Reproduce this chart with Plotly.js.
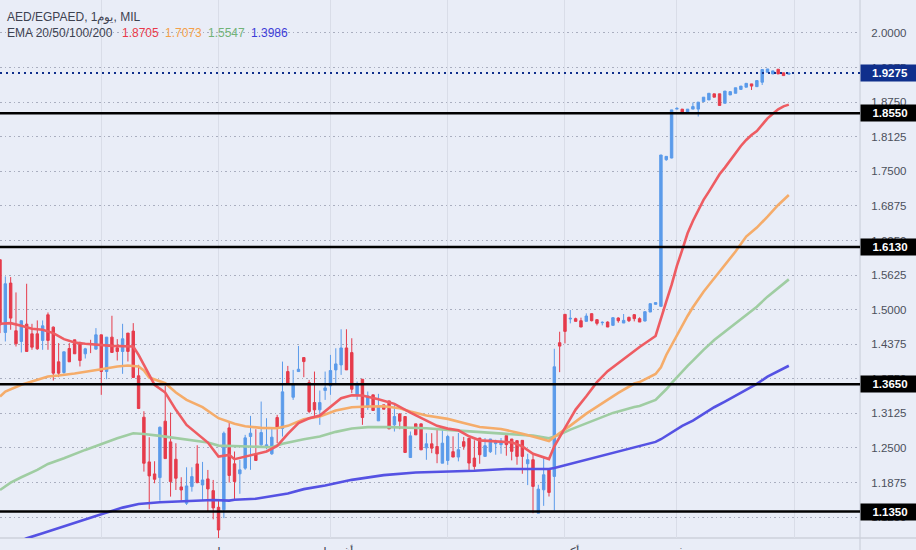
<!DOCTYPE html>
<html><head><meta charset="utf-8">
<script src="https://cdn.plot.ly/plotly-3.0.1.min.js"></script>
<style>html,body{margin:0;padding:0;background:#E9EDF7;overflow:hidden}#c{width:916px;height:550px}</style>
</head><body><div id="c"></div><script>
const open=[1.5902,1.4588,1.5480,1.4618,1.4425,1.4738,1.4563,1.4563,1.4443,1.4907,
1.4684,1.4057,1.3864,1.4298,1.4455,1.4407,1.4202,1.4377,1.4286,1.4545,
1.3882,1.4503,1.4310,1.4244,1.4576,1.4612,1.3804,1.3056,1.2248,1.2031,
1.1965,1.2984,1.2610,1.2296,1.1796,1.1500,1.1802,1.2212,1.1832,1.1941,
1.1729,1.1428,1.1383,1.2863,1.2213,1.2033,1.2135,1.2707,1.2376,1.2557,
1.2526,1.2394,1.3050,1.2851,1.3881,1.3417,1.3881,1.4134,1.3682,1.3321,
1.3189,1.3538,1.3622,1.3911,1.4001,1.4308,1.4224,1.3460,1.3742,1.3237,
1.3460,1.2990,1.3279,1.3351,1.2918,1.3116,1.3068,1.2328,1.2936,1.2936,
1.2502,1.2575,1.2526,1.2225,1.2274,1.2433,1.2336,1.2614,1.2674,1.2318,
1.2680,1.2348,1.2433,1.2578,1.2560,1.2723,1.2662,1.2632,1.2638,1.2215,
1.2288,1.1321,1.1744,1.2119,1.1986,1.4402,1.4915,1.4831,1.4837,1.4800,
1.4788,1.4927,1.4819,1.4764,1.4776,1.4716,1.4849,1.4758,1.4861,1.4909,
1.4837,1.4794,1.4957,1.5096,1.5060,1.7710,1.7740,1.8624,1.8624,1.8564,
1.8624,1.8624,1.8760,1.8790,1.8900,1.8900,1.8730,1.8880,1.8910,1.8980,
1.9020,1.9080,1.9030,1.9110,1.9290,1.9260,1.9345,1.9280,1.9255];
const high=[1.5902,1.5601,1.5589,1.5311,1.4805,1.5468,1.4744,1.4805,1.4805,1.4949,
1.4696,1.4395,1.4238,1.4395,1.4455,1.4419,1.4310,1.4455,1.4666,1.4545,
1.4503,1.4889,1.4467,1.4744,1.4576,1.4756,1.4003,1.3164,1.2694,1.2260,
1.2887,1.3623,1.3140,1.2586,1.1971,1.2151,1.2151,1.2549,1.2248,1.2103,
1.1922,1.1573,1.2797,1.2978,1.2436,1.2286,1.2737,1.3080,1.2839,1.3339,
1.3038,1.2857,1.3098,1.4061,1.3983,1.3911,1.4344,1.4134,1.3730,1.3881,
1.3538,1.3881,1.4182,1.4302,1.4645,1.4645,1.4483,1.3700,1.3742,1.3520,
1.3460,1.3478,1.3279,1.3351,1.3279,1.3128,1.3068,1.2797,1.2936,1.2936,
1.2767,1.2767,1.2827,1.2857,1.2737,1.2711,1.2771,1.2699,1.2680,1.2638,
1.2680,1.2680,1.2662,1.2650,1.2680,1.2723,1.2662,1.2638,1.2638,1.2396,
1.2378,1.1835,1.2318,1.2119,1.4293,1.4601,1.4915,1.4994,1.4855,1.4855,
1.4933,1.4933,1.4825,1.4788,1.4788,1.4861,1.4861,1.4921,1.4873,1.4921,
1.4861,1.4969,1.5115,1.5127,1.7795,1.7770,1.8610,1.8660,1.8624,1.8624,
1.8744,1.8750,1.8840,1.8910,1.8900,1.8900,1.8950,1.8940,1.9010,1.9040,
1.9090,1.9080,1.9140,1.9340,1.9350,1.9315,1.9345,1.9280,1.9273];
const low=[1.4576,1.4425,1.4636,1.4334,1.4226,1.4244,1.4274,1.4274,1.4274,1.4274,
1.3719,1.3780,1.3840,1.4057,1.4202,1.3973,1.4117,1.4214,1.4286,1.3460,
1.3743,1.4226,1.4081,1.3840,1.4063,1.3773,1.3213,1.2073,1.1392,1.1862,
1.1548,1.2308,1.1621,1.1741,1.1548,1.1470,1.1711,1.1862,1.1548,1.1349,
1.1211,1.0873,1.1232,1.1876,1.1563,1.1672,1.2105,1.2105,1.2274,1.2538,
1.2478,1.2376,1.2587,1.2707,1.3640,1.3369,1.3881,1.3779,1.3128,1.3080,
1.2918,1.3369,1.3460,1.3670,1.3821,1.3911,1.3490,1.3369,1.2918,1.3189,
1.3177,1.2990,1.3201,1.2845,1.2797,1.2839,1.2418,1.2328,1.2737,1.2466,
1.2286,1.2406,1.2225,1.2225,1.2195,1.2336,1.2258,1.2469,1.2094,1.2107,
1.2215,1.2348,1.2409,1.2378,1.2396,1.2360,1.2276,1.2197,1.2034,1.1829,
1.1321,1.1321,1.1454,1.1623,1.1370,1.3870,1.4390,1.4752,1.4788,1.4686,
1.4788,1.4788,1.4716,1.4716,1.4686,1.4716,1.4764,1.4758,1.4776,1.4788,
1.4776,1.4788,1.4957,1.5090,1.5054,1.7690,1.7735,1.8624,1.8564,1.8564,
1.8624,1.8490,1.8760,1.8790,1.8840,1.8690,1.8730,1.8880,1.8910,1.8980,
1.9020,1.8970,1.9030,1.9060,1.9290,1.9260,1.9260,1.9230,1.9255];
const close=[1.4726,1.5468,1.4847,1.4383,1.4799,1.4244,1.4322,1.4292,1.4708,1.4443,
1.3852,1.3852,1.4238,1.4057,1.4202,1.4081,1.4292,1.4371,1.4545,1.3882,
1.4503,1.4226,1.4244,1.4473,1.4244,1.3773,1.3213,1.2224,1.1995,1.1934,
1.2875,1.2308,1.1892,1.1953,1.1741,1.1814,1.1983,1.1874,1.1922,1.1760,
1.1416,1.1018,1.2767,1.2003,1.1894,1.2105,1.2683,1.2767,1.2274,1.2779,
1.2557,1.2695,1.2857,1.3514,1.3658,1.3658,1.3923,1.4061,1.3159,1.3189,
1.3321,1.3586,1.3899,1.4019,1.4308,1.3911,1.3562,1.3640,1.3050,1.3441,
1.3177,1.3237,1.3201,1.2845,1.3068,1.2984,1.2418,1.2719,1.2737,1.2466,
1.2575,1.2496,1.2394,1.2587,1.2707,1.2336,1.2469,1.2529,1.2227,1.2167,
1.2378,1.2541,1.2662,1.2602,1.2626,1.2560,1.2439,1.2348,1.2348,1.2288,
1.1805,1.1756,1.2016,1.1696,1.3967,1.4341,1.4607,1.4843,1.4788,1.4686,
1.4885,1.4800,1.4752,1.4770,1.4686,1.4855,1.4800,1.4806,1.4800,1.4837,
1.4776,1.4963,1.5108,1.5127,1.7795,1.7770,1.8610,1.8636,1.8564,1.8624,
1.8670,1.8750,1.8840,1.8910,1.8840,1.8690,1.8950,1.8940,1.9010,1.9040,
1.9090,1.9040,1.9140,1.9340,1.9350,1.9315,1.9260,1.9230,1.9275];
const barIndex=open.map((_,i)=>i);

const ema20x=[0,2,4,6,8,10,12,14,16,19,21,25,26,27,29,31,33,35,37,39,41,43,44,46,48,50,52,54,56,58,60,62,64,66,68,71,74,77,80,82,84,86,88,90,93,96,98,100,103,104,106,108,110,112,114,116,118,120,123,124,125,126,127,128,129,130,131,132,133,134,135,136,137,138,139,140,141,142,143,144,145,146,147,148];
const ema20=[1.4744,1.4756,1.4708,1.4654,1.4636,1.4576,1.4467,1.4407,1.4383,1.4358,1.4346,1.4334,1.4184,1.4003,1.3641,1.3502,1.3189,1.2917,1.2754,1.2598,1.2345,1.2375,1.2298,1.2346,1.2382,1.2436,1.2538,1.2755,1.2948,1.3038,1.3086,1.3249,1.3399,1.3453,1.3447,1.3381,1.3297,1.3140,1.2990,1.2900,1.2850,1.2819,1.2711,1.2638,1.2620,1.2602,1.2529,1.2396,1.2300,1.2529,1.2862,1.3194,1.3435,1.3689,1.3888,1.4039,1.4190,1.4325,1.4524,1.4813,1.5144,1.5446,1.5790,1.6080,1.6381,1.6603,1.6802,1.6983,1.7133,1.7302,1.7446,1.7567,1.7705,1.7838,1.7958,1.8066,1.8157,1.8229,1.8349,1.8458,1.8542,1.8620,1.8674,1.8705];
const ema50x=[0,1,4,6,9,11,14,19,22,24,26,27,28,31,33,35,38,41,43,44,46,49,52,54,57,60,63,66,69,72,75,77,80,84,87,90,94,98,101,103,105,107,110,113,116,119,120,123,124,125,126,127,128,129,130,131,132,133,134,135,136,138,140,142,144,146,148];
const ema50=[1.3430,1.3520,1.3641,1.3701,1.3792,1.3810,1.3846,1.3924,1.3973,1.3991,1.3973,1.3900,1.3773,1.3671,1.3502,1.3370,1.3237,1.3038,1.2978,1.2936,1.2894,1.2863,1.2857,1.2900,1.3020,1.3068,1.3177,1.3237,1.3249,1.3255,1.3219,1.3158,1.3086,1.3026,1.2952,1.2880,1.2843,1.2759,1.2680,1.2626,1.2771,1.2904,1.3121,1.3315,1.3496,1.3665,1.3690,1.3838,1.3959,1.4181,1.4362,1.4543,1.4723,1.4886,1.5042,1.5187,1.5325,1.5446,1.5566,1.5686,1.5795,1.6050,1.6321,1.6483,1.6682,1.6892,1.7073];
const ema100x=[0,2,4,7,9,12,16,19,22,25,27,30,33,36,39,41,43,46,51,53,57,60,63,66,69,73,77,80,84,87,91,96,100,103,105,107,111,115,119,120,123,124,125,126,127,128,129,130,131,132,134,136,138,140,142,144,146,148];
const ema100=[1.1741,1.1874,1.1971,1.2103,1.2212,1.2314,1.2465,1.2574,1.2676,1.2767,1.2754,1.2718,1.2676,1.2634,1.2598,1.2543,1.2537,1.2526,1.2514,1.2575,1.2659,1.2707,1.2791,1.2851,1.2876,1.2876,1.2870,1.2857,1.2827,1.2807,1.2777,1.2753,1.2723,1.2674,1.2741,1.2831,1.2982,1.3134,1.3240,1.3260,1.3369,1.3459,1.3561,1.3670,1.3778,1.3880,1.3983,1.4079,1.4181,1.4272,1.4452,1.4603,1.4753,1.4904,1.5054,1.5235,1.5385,1.5547];
const ema200x=[2,5,8,14,19,23,26,30,35,40,43,44,48,51,54,57,61,66,72,78,84,85,89,95,103,104,110,116,120,123,124,126,128,130,132,134,136,138,140,142,144,146,148];
const ema200=[1.0746,1.0867,1.0957,1.1150,1.1301,1.1422,1.1488,1.1518,1.1542,1.1561,1.1548,1.1563,1.1581,1.1623,1.1678,1.1756,1.1822,1.1924,1.2009,1.2057,1.2075,1.2070,1.2088,1.2119,1.2119,1.2137,1.2288,1.2433,1.2526,1.2610,1.2658,1.2779,1.2899,1.2995,1.3116,1.3236,1.3339,1.3441,1.3549,1.3658,1.3790,1.3892,1.3986];

const levels=[1.8550,1.6130,1.3650,1.1350];
const levelLabels=["1.8550","1.6130","1.3650","1.1350"];
const lastPrice=1.9275;
const yTicks=[2.0,1.9375,1.875,1.8125,1.75,1.6875,1.625,1.5625,1.5,1.4375,1.375,1.3125,1.25,1.1875,1.125];
const xTicks=[19,41,62,84,106,127,149];
const xLabels=["يونيو","يوليو","أغسطس","سبتمبر","أكتوبر","نوفمبر","ديسمبر"];
const emaValues=["1.8705","1.7073","1.5547","1.3986"];
const emaText=["#E8394A","#F4A04A","#72B377","#3C3CD8"];
const emaLeft=[121,164,207,250];

const FONT='"Liberation Sans",Arial,sans-serif';
const line=(x,y,c,w)=>({type:'scatter',mode:'lines',x,y,line:{color:c,width:w},hoverinfo:'skip',showlegend:false});
const traces=[
 {type:'candlestick',x:barIndex,open,high,low,close,whiskerwidth:0,showlegend:false,hoverinfo:'skip',
  increasing:{line:{color:'#5B9BEA',width:1},fillcolor:'#5B9BEA'},
  decreasing:{line:{color:'#E63B4B',width:1},fillcolor:'#E63B4B'}},
 line(ema200x,ema200,'#5552E3',2.6),
 line(ema100x,ema100,'#9FCDA2',2.6),
 line(ema50x,ema50,'#F5AC6A',2.6),
 line(ema20x,ema20,'#EE5C62',2.6)
];
const W=860,H=538;
const shapes=[
 {type:'line',xref:'paper',yref:'paper',x0:1,x1:1,y0:-0.03,y1:1,line:{color:'#C6CBD6',width:1},layer:'below'},
 {type:'line',xref:'paper',yref:'paper',x0:0,x1:1.07,y0:0,y1:0,line:{color:'#CDD1DB',width:1.5},layer:'below'},
 {type:'line',xref:'paper',yref:'y',x0:0,x1:1,y0:lastPrice,y1:lastPrice,line:{color:'#0F2F8C',width:2,dash:'2px,4px'}}
].concat(levels.map(v=>({type:'line',xref:'paper',yref:'y',x0:0,x1:1,y0:v,y1:v,line:{color:'#000',width:2.5}})));
const labelBox=(y,text,bg)=>({xref:'paper',yref:'y',x:1,y,xanchor:'left',yanchor:'middle',showarrow:false,
 text:'<b>'+text+'</b>',width:56,height:14,borderpad:1,bgcolor:bg,align:'center',
 font:{family:FONT,size:11.5,color:'#fff'}});
const annos=levels.map((v,i)=>labelBox(v,levelLabels[i],'#000'));
annos.push(labelBox(lastPrice,'1.9275','#0F2F8C'));
const txt=(x,y,text,color)=>({xref:'paper',yref:'paper',x:x/W,y:1-y/H,xanchor:'left',yanchor:'middle',showarrow:false,text,borderpad:0,
 font:{family:FONT,size:12,color}});
annos.push(txt(6,17,'AED/EGPAED, 1يوم, MIL','#3D4250'));
annos.push(txt(6,33,'EMA 20/50/100/200','#3D4250'));
emaValues.forEach((t,i)=>annos.push(txt(emaLeft[i],33,t,emaText[i])));

Plotly.newPlot('c',traces,{
 width:916,height:550,margin:{l:0,r:56,t:0,b:12,pad:0},
 paper_bgcolor:'#E9EDF7',plot_bgcolor:'#E9EDF7',boxgap:0.35,
 showlegend:false,hovermode:false,
 xaxis:{type:'linear',range:[0,161.35],rangeslider:{visible:false},tickmode:'array',tickvals:xTicks,ticktext:xLabels,
  showgrid:true,gridcolor:'#D9DDE8',gridwidth:1,zeroline:false,showline:false,ticks:'outside',ticklen:3,tickcolor:'rgba(0,0,0,0)',
  tickangle:0,tickfont:{family:FONT,size:12,color:'#3D4250'}},
 yaxis:{side:'right',range:[1.0873,2.0596],tickmode:'array',tickvals:yTicks,ticktext:yTicks.map(v=>v.toFixed(4)),
  showgrid:true,gridcolor:'#A9AEBF',gridwidth:1,griddash:'1.5px,3px',zeroline:false,showline:false,ticks:'outside',ticklen:8,tickcolor:'rgba(0,0,0,0)',
  tickfont:{family:FONT,size:11.5,color:'#4B505C'}},
 shapes,annotations:annos
},{displayModeBar:false,staticPlot:true});
</script></body></html>
